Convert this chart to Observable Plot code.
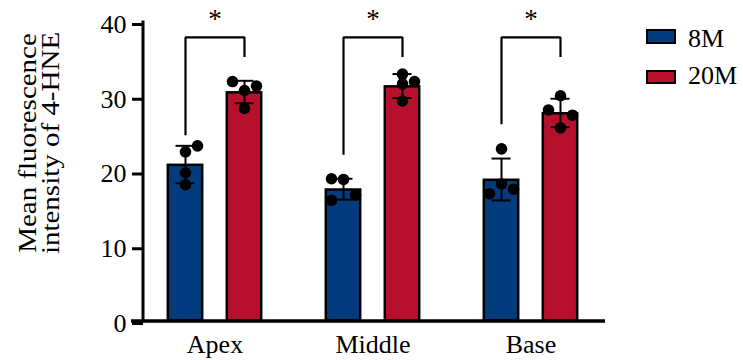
<!DOCTYPE html>
<html>
<head>
<meta charset="utf-8">
<script src="https://cdn.jsdelivr.net/npm/d3@7"></script>
<script src="https://cdn.jsdelivr.net/npm/@observablehq/plot@0.6"></script>
<style>
  html, body { margin: 0; padding: 0; background: white; }
  #chart { position: relative; width: 743px; height: 360px; }
</style>
</head>
<body>
<div id="chart"></div>
<script>
// ---- data ----
const groups = ["Apex", "Middle", "Base"];
const series = ["8M", "20M"];
const mean8M = [21.0, 17.7, 19.0];
const mean20M = [30.7, 31.5, 27.9];
const sd8M = [2.5, 1.4, 2.8];
const sd20M = [1.5, 1.6, 1.9];
// individual points per group (4 animals each)
const pts8M = [[23.5, 22.7, 19.9, 18.3], [19.1, 19.0, 16.2, 16.9], [23.1, 18.4, 17.1, 17.7]];
const pts20M = [[32.1, 30.9, 31.5, 28.5], [33.1, 31.8, 32.1, 29.5], [30.2, 28.3, 27.6, 25.9]];
// jitter column of each point (-1 left, 0 centre, 1 right)
const col8M = [[1, 0, 0, 0], [-1, 0, -1, 1], [0, 0, -1, 1]];
const col20M = [[-1, 0, 1, 0], [0, 0, 1, 0], [0, -1, 1, 0]];
// significance brackets
const bracketLeftBottom = [24.9, 22.3, 26.4];
const bracketRightBottom = [35.4, 35.4, 35.4];
const bracketTop = [38, 38, 38];
const yTicks = [0, 10, 20, 30, 40];
const colors = ["#023b7e", "#b6102c"];

// ---- tables built from the arrays ----
const stats = [];
groups.forEach((g, i) => {
  stats.push({group: g, series: "8M", mean: mean8M[i], sd: sd8M[i]});
  stats.push({group: g, series: "20M", mean: mean20M[i], sd: sd20M[i]});
});
const points = [];
groups.forEach((g, i) => {
  pts8M[i].forEach((v, j) => points.push({group: g, series: "8M", value: v, col: col8M[i][j]}));
  pts20M[i].forEach((v, j) => points.push({group: g, series: "20M", value: v, col: col20M[i][j]}));
});
const brackets = [];
groups.forEach((g, i) => {
  brackets.push({group: g, series: "8M", y: bracketLeftBottom[i]});
  brackets.push({group: g, series: "8M", y: bracketTop[i]});
  brackets.push({group: g, series: "20M", y: bracketTop[i]});
  brackets.push({group: g, series: "20M", y: bracketRightBottom[i]});
});
const stars = groups.map((g, i) => ({group: g, y: bracketTop[i], label: "*"}));

const font = "'Liberation Serif', 'Times New Roman', serif";

const chart = Plot.plot({
  width: 743,
  height: 360,
  marginLeft: 142,
  marginRight: 139,
  marginTop: 22,
  marginBottom: 39,
  style: {fontFamily: font, fontSize: "25px", background: "white", overflow: "visible", color: "black"},
  fx: {domain: groups, paddingInner: 0.094, paddingOuter: 0, label: null},
  x: {domain: series, paddingInner: 0.383, paddingOuter: 0.39, axis: null},
  y: {domain: [0, 40]},
  color: {domain: series, range: colors},
  marks: [
    Plot.axisY({anchor: "left", ticks: yTicks, tickSize: 11, tickPadding: 6, strokeWidth: 3,
                fontSize: 26, dy: 2, label: null}),
    Plot.axisFx({anchor: "bottom", tickSize: 0, tickPadding: 13, fontSize: 26, label: null}),
    Plot.barY(stats, {fx: "group", x: "series", y: "mean", fill: "series",
                      stroke: "black", strokeWidth: 2.5, inset: 0.8}),
    Plot.ruleX(stats, {fx: "group", x: "series", y1: d => d.mean - d.sd, y2: d => d.mean + d.sd,
                       stroke: "black", strokeWidth: 2}),
    Plot.tickY(stats, {fx: "group", x: "series", y: d => d.mean + d.sd, stroke: "black",
                       strokeWidth: 2, insetLeft: 8.5, insetRight: 8.5}),
    Plot.tickY(stats, {fx: "group", x: "series", y: d => d.mean - d.sd, stroke: "black",
                       strokeWidth: 2, insetLeft: 8.5, insetRight: 8.5}),
    ...[-1, 0, 1].map(c => Plot.dot(points.filter(d => d.col === c),
        {fx: "group", x: "series", y: "value", r: 5.8, fill: "black", stroke: "none", dx: c * 12})),
    Plot.line(brackets, {fx: "group", x: "series", y: "y", stroke: "black", strokeWidth: 2.2,
                         strokeLinejoin: "miter", strokeLinecap: "butt"}),
    Plot.text(stars, {fx: "group", y: "y", text: "label", fontSize: 27, dy: -9,
                      lineAnchor: "bottom", fill: "black"})
  ]
});

const svg = d3.select(chart);
const y = chart.scale("y");
// enforce tick label size
svg.selectAll('g[aria-label="y-axis tick label"]').attr("font-size", 26)
  .selectAll("text").attr("font-size", 26);

// axis lines
svg.append("line").attr("x1", 143).attr("x2", 143)
  .attr("y1", y.apply(40) - 1.5).attr("y2", y.apply(0))
  .attr("stroke", "black").attr("stroke-width", 3);
svg.append("line").attr("x1", 131).attr("x2", 605)
  .attr("y1", y.apply(0)).attr("y2", y.apply(0))
  .attr("stroke", "black").attr("stroke-width", 3.5);

// y-axis title (two lines)
const tg = svg.append("g").attr("font-family", font).attr("font-size", 29).attr("fill", "black")
  .attr("text-anchor", "middle");
tg.append("text").attr("transform", "translate(36,143) rotate(-90) scale(1,0.9)").text("Mean fluorescence");
tg.append("text").attr("transform", "translate(59,143) rotate(-90) scale(1,0.9)").text("intensity of 4-HNE");

// legend
const lg = svg.append("g").attr("font-family", font).attr("font-size", 26).attr("fill", "black")
  .attr("text-anchor", "start");
[["8M", 30, 13, 46.5], ["20M", 71, 12, 84]].forEach(([name, ry, rh, ty], i) => {
  lg.append("rect").attr("x", 647).attr("y", ry).attr("width", 28).attr("height", rh)
    .attr("fill", colors[i]).attr("stroke", "black").attr("stroke-width", 2);
  lg.append("text").attr("x", 688).attr("y", ty).text(name);
});

document.getElementById("chart").appendChild(chart);
</script>
</body>
</html>
